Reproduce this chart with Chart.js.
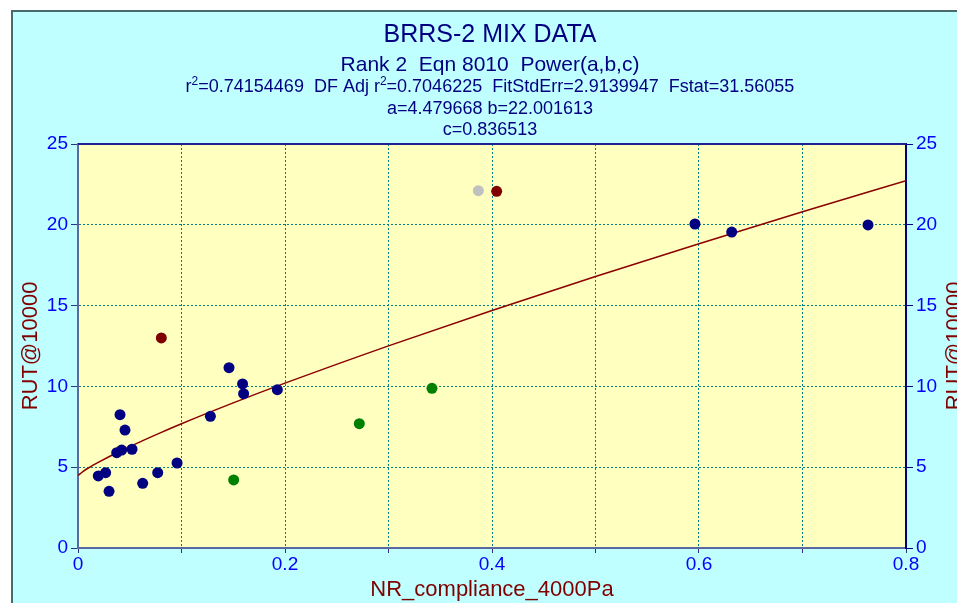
<!DOCTYPE html>
<html lang="en">
<head>
    <meta charset="UTF-8">
    <title>BRRS-2 MIX DATA</title>
    <script src="https://cdn.jsdelivr.net/npm/chart.js"></script>
    <style>
        body { margin: 0; background: #ffffff; }
        #box { width: 957px; height: 603px; }
    </style>
</head>
<body>
    <div id="box">
        <canvas id="myChart" width="957" height="603"></canvas>
    </div>

<script>
    // points (x = NR_compliance_4000Pa, y = RUT@10000)
    var navy_x = [0.0196, 0.0267, 0.0300, 0.0374, 0.0406, 0.0422, 0.0454, 0.0522, 0.0625, 0.0770, 0.0957, 0.1279, 0.1459, 0.1590, 0.1600, 0.1926, 0.5961, 0.6316, 0.7633];
    var navy_y = [4.46, 4.66, 3.51, 5.90, 8.25, 6.06, 7.30, 6.11, 4.00, 4.66, 5.26, 8.15, 11.16, 10.15, 9.55, 9.80, 20.05, 19.55, 19.99];
    var red_x = [0.0805, 0.4045];
    var red_y = [13.0, 22.07];
    var green_x = [0.1504, 0.2718, 0.3420];
    var green_y = [4.21, 7.69, 9.88];
    var gray_x = [0.3868];
    var gray_y = [22.11];

    // fitted curve
    var fit_x = [0, 0.005, 0.01, 0.02, 0.04, 0.06, 0.08, 0.1, 0.15, 0.2, 0.3, 0.4, 0.5, 0.6, 0.7, 0.8];
    var fit_y = [4.48, 4.74, 4.95, 5.31, 5.97, 6.57, 7.14, 7.69, 8.98, 10.20, 12.51, 14.70, 16.80, 18.83, 20.81, 22.73];

    var y_ticks = [0, 5, 10, 15, 20, 25];
    var x_tick_labels = ['0', '0.2', '0.4', '0.6', '0.8'];

    var titulo = 'BRRS-2 MIX DATA';
    var subtitulo = 'Rank 2  Eqn 8010  Power(a,b,c)';
    var linha_r2 = [['r', 0], ['2', 1], ['=0.74154469  DF Adj r', 0], ['2', 1], ['=0.7046225  FitStdErr=2.9139947  Fstat=31.56055', 0]];
    var linha_ab = 'a=4.479668 b=22.001613';
    var linha_c = 'c=0.836513';

    var FONTE = '"Liberation Sans", Arial, sans-serif';

    function pares(xs, ys) {
        var out = [];
        for (var i = 0; i < xs.length; i++) {
            out.push({ x: xs[i], y: ys[i] });
        }
        return out;
    }

    // background frame, plot fill, top border and the header text
    var moldura = {
        id: 'moldura',
        beforeDraw: function (chart) {
            var ctx = chart.ctx;
            var a = chart.chartArea;
            ctx.save();
            ctx.fillStyle = '#ffffff';
            ctx.fillRect(0, 0, chart.width, chart.height);
            ctx.fillStyle = '#c0ffff';
            ctx.fillRect(12, 10, chart.width - 12, chart.height - 10);
            ctx.strokeStyle = '#4a6a6a';
            ctx.lineWidth = 2;
            ctx.beginPath();
            ctx.moveTo(12, chart.height);
            ctx.lineTo(12, 11);
            ctx.lineTo(chart.width, 11);
            ctx.stroke();
            ctx.fillStyle = '#ffffc0';
            ctx.fillRect(a.left, a.top, a.right - a.left, a.bottom - a.top);
            ctx.restore();
        },
        afterDraw: function (chart) {
            var ctx = chart.ctx;
            var a = chart.chartArea;
            var cx = 490;
            ctx.save();
            ctx.strokeStyle = '#202090';
            ctx.lineWidth = 2;
            ctx.beginPath();
            ctx.moveTo(a.left, a.top);
            ctx.lineTo(a.right, a.top);
            ctx.stroke();

            ctx.fillStyle = '#000080';
            ctx.textAlign = 'center';
            ctx.textBaseline = 'alphabetic';
            ctx.font = '25px ' + FONTE;
            ctx.fillText(titulo, cx, 42);
            ctx.font = '21px ' + FONTE;
            ctx.fillText(subtitulo, cx, 71);
            ctx.font = '18px ' + FONTE;
            ctx.fillText(linha_ab, cx, 114);
            ctx.fillText(linha_c, cx, 135);

            // line with superscripts
            ctx.textAlign = 'left';
            var larg = 0;
            linha_r2.forEach(function (s) {
                ctx.font = (s[1] ? '12px ' : '18px ') + FONTE;
                larg += ctx.measureText(s[0]).width;
            });
            var x = cx - larg / 2;
            linha_r2.forEach(function (s) {
                ctx.font = (s[1] ? '12px ' : '18px ') + FONTE;
                ctx.fillText(s[0], x, s[1] ? 85 : 92);
                x += ctx.measureText(s[0]).width;
            });

            // right axis title, reading bottom to top like the left one
            ctx.fillStyle = '#800000';
            ctx.font = '22px ' + FONTE;
            ctx.textAlign = 'center';
            ctx.textBaseline = 'middle';
            ctx.translate(955, (a.top + a.bottom) / 2);
            ctx.rotate(-Math.PI / 2);
            ctx.fillText('RUT@10000', 0, 0);
            ctx.restore();
        }
    };

    Chart.defaults.font.family = FONTE;

    const ctx = document.getElementById('myChart');

    new Chart(ctx, {
        type: 'scatter',
        data: {
            datasets: [{
                label: 'navy',
                data: pares(navy_x, navy_y),
                backgroundColor: '#000080',
                borderColor: '#000080',
                pointRadius: 5.5,
                borderWidth: 0
            }, {
                label: 'red',
                data: pares(red_x, red_y),
                backgroundColor: '#800000',
                borderColor: '#800000',
                pointRadius: 5.5,
                borderWidth: 0
            }, {
                label: 'green',
                data: pares(green_x, green_y),
                backgroundColor: '#008000',
                borderColor: '#008000',
                pointRadius: 5.5,
                borderWidth: 0
            }, {
                label: 'gray',
                data: pares(gray_x, gray_y),
                backgroundColor: '#c0c0c0',
                borderColor: '#c0c0c0',
                pointRadius: 5.5,
                borderWidth: 0
            }, {
                label: 'fit',
                type: 'line',
                data: pares(fit_x, fit_y),
                borderColor: '#8b0000',
                borderWidth: 1.5,
                pointRadius: 0,
                cubicInterpolationMode: 'monotone',
                fill: false
            }]
        },
        options: {
            responsive: false,
            animation: false,
            layout: { padding: { top: 144, left: 0, right: 0, bottom: 0 } },
            plugins: {
                legend: { display: false },
                tooltip: { enabled: false },
                title: { display: false }
            },
            scales: {
                x: {
                    type: 'linear',
                    position: 'bottom',
                    min: 0,
                    max: 0.8,
                    afterFit: function (s) { s.height = 55; },
                    ticks: {
                        stepSize: 0.1,
                        color: '#0000ff',
                        font: { size: 19 },
                        padding: 0,
                        maxRotation: 0,
                        autoSkip: false,
                        callback: function (v) {
                            var k = Math.round(v * 10);
                            return k % 2 === 0 ? x_tick_labels[k / 2] : '';
                        }
                    },
                    grid: {
                        color: '#008080',
                        lineWidth: 1,
                        tickLength: 5,
                        tickColor: '#303080',
                        tickWidth: 1
                    },
                    border: { color: '#5a6aa0', width: 2, dash: [2, 2] },
                    title: {
                        display: true,
                        text: 'NR_compliance_4000Pa',
                        color: '#800000',
                        font: { size: 22 },
                        padding: { top: 2, bottom: 0 }
                    }
                },
                y: {
                    type: 'linear',
                    position: 'left',
                    min: 0,
                    max: 25,
                    afterFit: function (s) { s.width = 78; },
                    afterBuildTicks: function (s) { s.ticks = y_ticks.map(function (v) { return { value: v }; }); },
                    ticks: {
                        color: '#0000ff',
                        font: { size: 19 },
                        padding: 3
                    },
                    grid: {
                        color: '#008080',
                        lineWidth: 1,
                        tickLength: 7,
                        tickColor: '#303080',
                        tickWidth: 1
                    },
                    border: { color: '#5a6aa0', width: 2, dash: [2, 2] },
                    title: {
                        display: true,
                        text: 'RUT@10000',
                        color: '#800000',
                        font: { size: 22 },
                        padding: { top: 18, bottom: 0 }
                    }
                },
                y2: {
                    type: 'linear',
                    position: 'right',
                    min: 0,
                    max: 25,
                    afterFit: function (s) { s.width = 51; },
                    afterBuildTicks: function (s) { s.ticks = y_ticks.map(function (v) { return { value: v }; }); },
                    ticks: {
                        color: '#0000ff',
                        font: { size: 19 },
                        padding: 3
                    },
                    grid: {
                        drawOnChartArea: false,
                        tickLength: 7,
                        tickColor: '#000080',
                        tickWidth: 1
                    },
                    border: { color: '#000080', width: 2 }
                }
            }
        },
        plugins: [moldura]
    });
</script>
</body>
</html>
